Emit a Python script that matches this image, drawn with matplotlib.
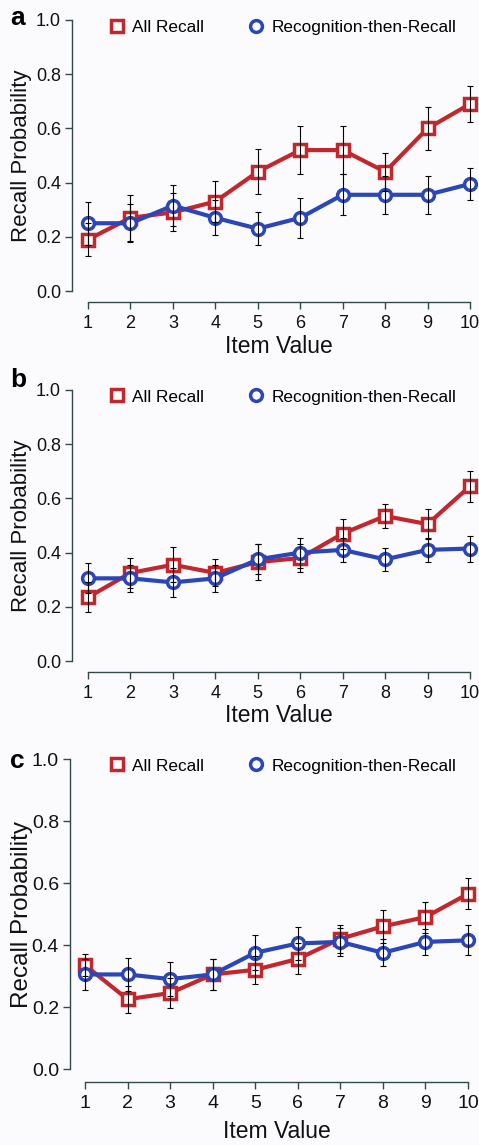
import numpy as np
import matplotlib
matplotlib.use('Agg')
from matplotlib import pyplot as plt
from matplotlib.lines import Line2D

plt.rcParams['font.family'] = ['Liberation Sans', 'DejaVu Sans']

item_value = [1, 2, 3, 4, 5, 6, 7, 8, 9, 10]
y_ticks = [0.0, 0.2, 0.4, 0.6, 0.8, 1.0]
series_names = ['All Recall', 'Recognition-then-Recall']
panel_letters = ['a', 'b', 'c']

# panel a
all_recall_a = [0.19, 0.27, 0.29, 0.33, 0.44, 0.52, 0.52, 0.44, 0.60, 0.69]
all_recall_a_err = [0.06, 0.085, 0.07, 0.075, 0.083, 0.09, 0.09, 0.07, 0.08, 0.067]
rtr_a = [0.25, 0.25, 0.315, 0.27, 0.23, 0.27, 0.355, 0.355, 0.355, 0.395]
rtr_a_err = [0.08, 0.07, 0.075, 0.065, 0.062, 0.075, 0.075, 0.07, 0.07, 0.06]

# panel b
all_recall_b = [0.235, 0.325, 0.355, 0.325, 0.365, 0.38, 0.47, 0.535, 0.505, 0.645]
all_recall_b_err = [0.055, 0.055, 0.065, 0.05, 0.065, 0.05, 0.055, 0.043, 0.055, 0.057]
rtr_b = [0.305, 0.305, 0.29, 0.305, 0.375, 0.40, 0.41, 0.375, 0.41, 0.415]
rtr_b_err = [0.055, 0.05, 0.053, 0.05, 0.055, 0.055, 0.045, 0.043, 0.043, 0.048]

# panel c
all_recall_c = [0.335, 0.225, 0.245, 0.305, 0.32, 0.355, 0.42, 0.46, 0.49, 0.565]
all_recall_c_err = [0.035, 0.043, 0.048, 0.05, 0.046, 0.05, 0.045, 0.052, 0.05, 0.05]
rtr_c = [0.305, 0.305, 0.29, 0.305, 0.375, 0.405, 0.41, 0.375, 0.41, 0.415]
rtr_c_err = [0.05, 0.052, 0.055, 0.05, 0.056, 0.053, 0.045, 0.043, 0.043, 0.048]

red = '#c1272d'
blue = '#2b46b8'
spine_col = '#34494a'
bg = '#fbfbfd'

W, H = 479, 1145
fig = plt.figure(figsize=(W / 100, H / 100), dpi=100, facecolor=bg)

# pixel layout: y-spine x, x of item 1, x of item 10, x-spine y, y of 0.0, y of 1.0
layout = [
    (72, 88, 470, 302, 291, 20),
    (72, 88, 470, 672, 661, 390),
    (70, 85, 468, 1082, 1069, 759),
]
letter_base = [25, 387, 768]
xlabel_off = [44, 44, 49]
tick_fs = [13, 13, 14]
ylab_fs = [16, 16, 17.5]

panels = [
    (all_recall_a, all_recall_a_err, rtr_a, rtr_a_err),
    (all_recall_b, all_recall_b_err, rtr_b, rtr_b_err),
    (all_recall_c, all_recall_c_err, rtr_c, rtr_c_err),
]

for i, (ar, ar_e, rr, rr_e) in enumerate(panels):
    ysx, x1, x10, xsy, y0, y1 = layout[i]
    ppx = (x10 - x1) / 9
    ppy = (y0 - y1)
    left, right = ysx, W
    top = y1 - 10
    xlim = (1 - (x1 - left) / ppx, 10 + (right - x10) / ppx)
    ylim = ((y0 - xsy) / ppy, (y0 - top) / ppy)
    ax = fig.add_axes([left / W, 1 - xsy / H, (right - left) / W, (xsy - top) / H])
    ax.set_facecolor(bg)
    ax.set_xlim(*xlim)
    ax.set_ylim(*ylim)

    ax.plot(item_value, ar, color=red, lw=3, marker='s', ms=8.5, mew=2.5,
            mfc='white', mec=red, zorder=2, clip_on=False)
    ax.plot(item_value, rr, color=blue, lw=3, marker='o', ms=8.5, mew=2.5,
            mfc='white', mec=blue, zorder=2.5, clip_on=False)
    ax.errorbar(item_value, ar, yerr=ar_e, fmt='none', ecolor='black',
                elinewidth=0.8, capsize=2.5, capthick=0.8, zorder=3, clip_on=False)
    ax.errorbar(item_value, rr, yerr=rr_e, fmt='none', ecolor='black',
                elinewidth=0.8, capsize=2.5, capthick=0.8, zorder=3, clip_on=False)

    for s in ['top', 'right']:
        ax.spines[s].set_visible(False)
    ax.spines['left'].set_bounds(0, 1)
    ax.spines['bottom'].set_bounds(1, 10)
    for s in ['left', 'bottom']:
        ax.spines[s].set_color(spine_col)
        ax.spines[s].set_linewidth(1.0)

    ax.set_xticks(item_value)
    ax.set_yticks(y_ticks)
    ax.set_yticklabels(['%.1f' % v for v in y_ticks])
    ax.tick_params(axis='both', direction='out', length=5, width=1.0,
                   color=spine_col, labelsize=tick_fs[i], labelcolor='#111111')
    ax.tick_params(axis='y', pad=3)
    ax.tick_params(axis='x', pad=4)

    ax.set_ylabel('Recall Probability', fontsize=ylab_fs[i], color='#111111')
    ymid = (0.5 - ylim[0]) / (ylim[1] - ylim[0])
    ax.yaxis.set_label_coords((22 - left) / (right - left), ymid)
    ax.set_xlabel('Item Value', fontsize=16.5, color='#111111')
    xmid = (5.5 - xlim[0]) / (xlim[1] - xlim[0])
    ax.xaxis.set_label_coords(xmid, -xlabel_off[i] / (xsy - top))
    ax.xaxis.label.set_va('center')
    ax.yaxis.label.set_va('center')

    handles = [
        Line2D([], [], ls='none', marker='s', ms=8.5, mew=2.5, mfc='white', mec=red),
        Line2D([], [], ls='none', marker='o', ms=8.5, mew=2.5, mfc='white', mec=blue),
    ]
    leg_y = y1 + 7
    fig.legend(handles, series_names, loc='center left',
               bbox_to_anchor=(110 / W, 1 - leg_y / H), frameon=False, ncol=2,
               fontsize=12.4, borderpad=0, borderaxespad=0, handlelength=0.8,
               handletextpad=0.5, columnspacing=2.6)

    fig.text(10 / W, 1 - letter_base[i] / H, panel_letters[i], fontsize=19,
             fontweight='bold', ha='left', va='baseline', color='black')

fig.savefig('out.png', dpi=100, facecolor=bg)
